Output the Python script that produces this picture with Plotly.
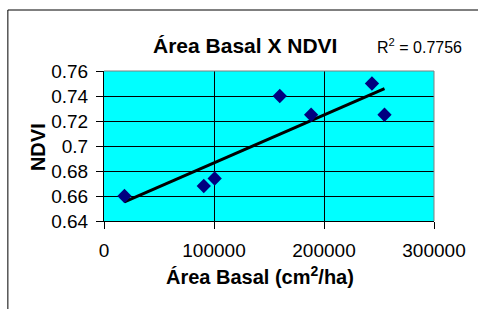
import numpy as np
import plotly.graph_objects as go

# Data
area_basal = [18600, 90700, 100600, 159800, 188300, 243600, 255000]
ndvi = [0.660, 0.668, 0.674, 0.740, 0.725, 0.750, 0.725]
r2_label = "R<sup>2</sup> = 0.7756"
title_text = "Área Basal X NDVI"
x_title = "Área Basal (cm<sup>2</sup>/ha)"
y_title = "NDVI"
y_tickvals = [0.64, 0.66, 0.68, 0.70, 0.72, 0.74, 0.76]
y_ticktext = ["0.64", "0.66", "0.68", "0.7", "0.72", "0.74", "0.76"]
x_tickvals = [0, 100000, 200000, 300000]
x_ticktext = ["0", "100000", "200000", "300000"]

W, H = 478, 309
L, R, T, B = 104, 437, 71, 221


def px(x):
    return (x - L) / (R - L)


def py(y):
    return (B - y) / (B - T)


# linear trendline (least squares)
slope, intercept = np.polyfit(area_basal, ndvi, 1)
tx = [min(area_basal), max(area_basal)]
ty = [slope * v + intercept for v in tx]

FONT = "Liberation Sans, Arial, sans-serif"

fig = go.Figure()
fig.add_trace(go.Scatter(x=tx, y=ty, mode="lines",
                         line=dict(color="black", width=3), hoverinfo="skip",
                         showlegend=False))
fig.add_trace(go.Scatter(x=area_basal, y=ndvi, mode="markers",
                         marker=dict(symbol="diamond", size=11, color="#000080",
                                     line=dict(width=0)),
                         showlegend=False))

fig.update_layout(
    width=W, height=H,
    margin=dict(l=L, r=W - R, t=T, b=H - B, pad=0),
    paper_bgcolor="white", plot_bgcolor="#00FFFF",
    font=dict(family=FONT, color="black", size=19),
    xaxis=dict(range=[0, 300000], tickvals=x_tickvals, ticktext=x_ticktext,
               showgrid=True, gridcolor="black", gridwidth=1,
               showline=True, linecolor="black", linewidth=1,
               ticks="outside", ticklen=7, tickcolor="black",
               ticklabelstandoff=5, zeroline=False,
               tickfont=dict(size=19)),
    yaxis=dict(range=[0.64, 0.76], tickvals=y_tickvals, ticktext=y_ticktext,
               showgrid=True, gridcolor="black", gridwidth=1,
               showline=True, linecolor="black", linewidth=1,
               ticks="outside", ticklen=7, tickcolor="black",
               ticklabelstandoff=4, zeroline=False,
               tickfont=dict(size=19)),
    shapes=[
        dict(type="line", xref="paper", yref="paper", x0=0, x1=1, y0=1, y1=1,
             line=dict(color="#808080", width=1)),
        dict(type="line", xref="paper", yref="paper", x0=1, x1=1, y0=0, y1=1,
             line=dict(color="#808080", width=1)),
        dict(type="rect", xref="paper", yref="paper",
             x0=px(7), x1=px(490), y0=py(10), y1=py(320),
             line=dict(color="black", width=1), fillcolor="rgba(0,0,0,0)"),
    ],
    annotations=[
        dict(text="<b>" + title_text + "</b>", xref="paper", yref="paper",
             x=px(246), y=py(46), xanchor="center", yanchor="middle",
             showarrow=False, font=dict(size=21)),
        dict(text=r2_label, xref="paper", yref="paper",
             x=px(377), y=py(46), xanchor="left", yanchor="middle",
             showarrow=False, font=dict(size=16)),
        dict(text="<b>" + x_title + "</b>", xref="paper", yref="paper",
             x=px(261), y=py(275), xanchor="center", yanchor="middle",
             showarrow=False, font=dict(size=20)),
        dict(text="<b>" + y_title + "</b>", xref="paper", yref="paper",
             x=px(37.5), y=py(147), xanchor="center", yanchor="middle",
             showarrow=False, textangle=-90, font=dict(size=20)),
    ],
)

fig.write_html(
    "out.html",
    config={"displayModeBar": False},
    post_script="document.body.style.margin='0';document.body.style.overflow='hidden';",
)
